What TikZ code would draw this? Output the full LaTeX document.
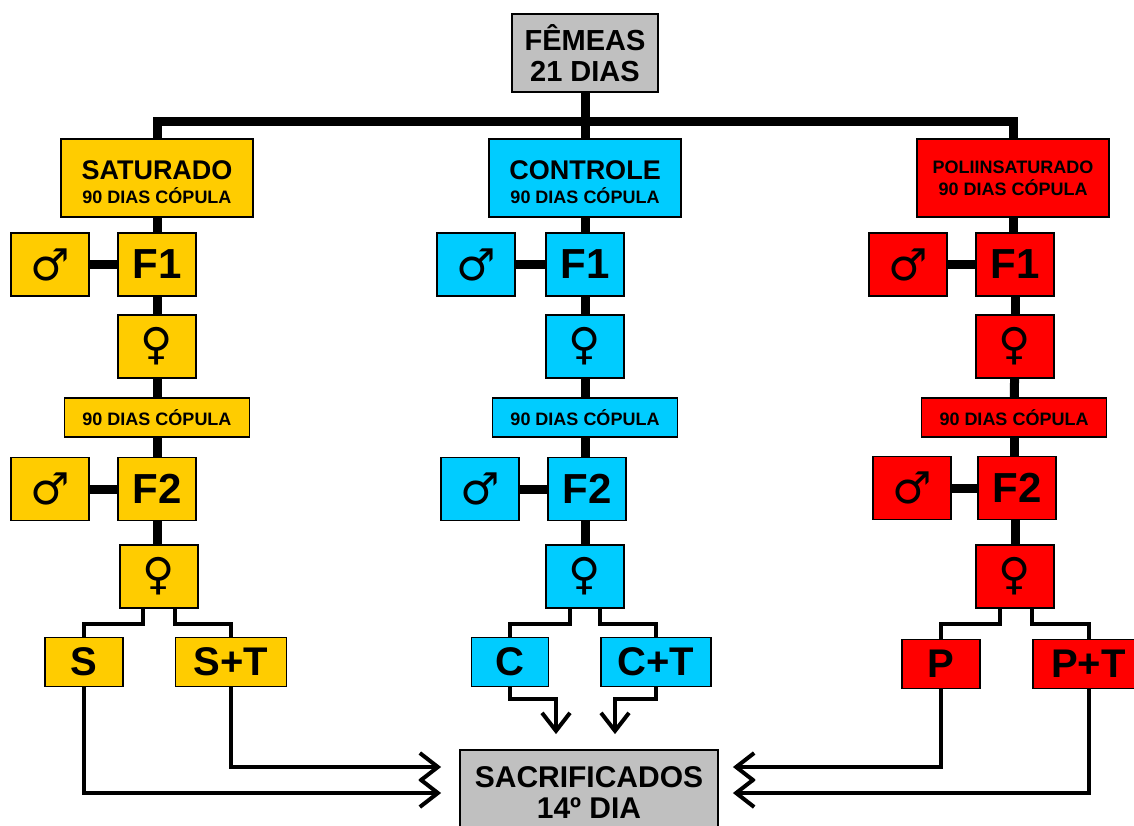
\documentclass[tikz,border=0pt]{standalone}
\usepackage{fontspec}
\setmainfont{Liberation Sans}
\newfontfamily\simbolo{DejaVu Sans}
\usetikzlibrary{arrows.meta}

\definecolor{amarelo}{HTML}{FFCC00}
\definecolor{azul}{HTML}{00CCFF}
\definecolor{vermelho}{HTML}{FF0000}
\definecolor{cinza}{HTML}{C0C0C0}

\tikzset{
  box/.style={draw=black, line width=1.8pt, inner sep=0pt, align=center},
  topo/.style={box, minimum width=192pt, minimum height=78pt},
  sexo/.style={box, minimum width=78pt, minimum height=63pt, font=\simbolo\bfseries\fontsize{44}{44}\selectfont},
  geracao/.style={box, minimum width=78pt, minimum height=63pt, font=\bfseries\fontsize{42}{42}\selectfont},
  copula/.style={box, minimum width=185pt, minimum height=39pt, font=\bfseries\fontsize{18}{18}\selectfont},
  grupo/.style={box, minimum width=78pt, minimum height=49pt, font=\bfseries\fontsize{40}{40}\selectfont},
  grupot/.style={grupo, minimum width=111pt},
  tronco/.style={line width=9pt},
  ramo/.style={line width=4pt},
  seta/.style={ramo, -{Straight Barb[length=18pt,width=28pt]}},
}

\begin{document}
\begin{tikzpicture}[x=1pt,y=-1pt]
    \useasboundingbox (0,0) rectangle (1134,825);

    % topo
    \node[box, fill=cinza, minimum width=146pt, minimum height=78pt, font=\bfseries\fontsize{29}{31}\selectfont] (femeas) at (585,53) {FÊMEAS\\21 DIAS};
    \coordinate (barra) at (585,121);

    % saturado
    \node[topo, fill=amarelo, font=\bfseries\fontsize{18}{24}\selectfont] (sat) at (157,178) {\rule{0pt}{28pt}{\fontsize{27}{24}\selectfont SATURADO}\\90 DIAS CÓPULA};
    \node[geracao, fill=amarelo] (sat_f1) at (157,264.5) {F1};
    \node[sexo, fill=amarelo] (sat_m1) at (50,264.5) {♂};
    \node[sexo, fill=amarelo] (sat_fe1) at (157,346.5) {♀};
    \node[copula, fill=amarelo] (sat_dias) at (157,417.5) {90 DIAS CÓPULA};
    \node[geracao, fill=amarelo] (sat_f2) at (157,489) {F2};
    \node[sexo, fill=amarelo] (sat_m2) at (50,489) {♂};
    \node[sexo, fill=amarelo] (sat_fe2) at (159,576.5) {♀};
    \node[grupo, fill=amarelo] (s) at (84,662) {S};
    \node[grupot, fill=amarelo] (s_t) at (231,662) {S+T};

    % controle
    \node[topo, fill=azul, font=\bfseries\fontsize{18}{24}\selectfont] (con) at (585,178) {\rule{0pt}{28pt}{\fontsize{27}{24}\selectfont CONTROLE}\\90 DIAS CÓPULA};
    \node[geracao, fill=azul] (con_f1) at (585,264.5) {F1};
    \node[sexo, fill=azul] (con_m1) at (476,264.5) {♂};
    \node[sexo, fill=azul] (con_fe1) at (585,346.5) {♀};
    \node[copula, fill=azul] (con_dias) at (585,417.5) {90 DIAS CÓPULA};
    \node[geracao, fill=azul] (con_f2) at (587,489) {F2};
    \node[sexo, fill=azul] (con_m2) at (480,489) {♂};
    \node[sexo, fill=azul] (con_fe2) at (585,576.5) {♀};
    \node[grupo, fill=azul, minimum width=77pt] (c) at (510,662) {C};
    \node[grupot, fill=azul, minimum width=110pt] (c_t) at (656,662) {C+T};

    % poliinsaturado
    \node[topo, fill=vermelho, font=\bfseries\fontsize{18}{22}\selectfont] (pol) at (1013,178) {POLIINSATURADO\\90 DIAS CÓPULA};
    \node[geracao, fill=vermelho] (pol_f1) at (1015,264.5) {F1};
    \node[sexo, fill=vermelho] (pol_m1) at (908,264.5) {♂};
    \node[sexo, fill=vermelho] (pol_fe1) at (1015,346.5) {♀};
    \node[copula, fill=vermelho] (pol_dias) at (1014,417.5) {90 DIAS CÓPULA};
    \node[geracao, fill=vermelho] (pol_f2) at (1017,488) {F2};
    \node[sexo, fill=vermelho] (pol_m2) at (912,488) {♂};
    \node[sexo, fill=vermelho] (pol_fe2) at (1015,576.5) {♀};
    \node[grupo, fill=vermelho] (p) at (941,664) {P};
    \node[grupot, fill=vermelho] (p_t) at (1088.5,664) {P+T};

    % final
    \node[box, fill=cinza, minimum width=258pt, minimum height=86pt, font=\bfseries\fontsize{30}{31}\selectfont] (sac) at (589,793) {SACRIFICADOS\\14º DIA};

    % tronco principal
    \draw[tronco] (femeas) -- (con);
    \draw[tronco] (sat.north) |- (barra) -| (pol.north);

    \draw[tronco] (sat) -- (sat_f1);
    \draw[tronco] (sat_m1) -- (sat_f1);
    \draw[tronco] (sat_f1) -- (sat_fe1);
    \draw[tronco] (sat_fe1) -- (sat_dias);
    \draw[tronco] (sat_dias) -- (sat_f2);
    \draw[tronco] (sat_m2) -- (sat_f2);
    \draw[tronco] (sat_f2.south) -- (sat_f2.south |- sat_fe2.north);

    \draw[tronco] (con) -- (con_f1);
    \draw[tronco] (con_m1) -- (con_f1);
    \draw[tronco] (con_f1) -- (con_fe1);
    \draw[tronco] (con_fe1) -- (con_dias);
    \draw[tronco] (con_dias.south) -- (con_dias.south |- con_f2.north);
    \draw[tronco] (con_m2) -- (con_f2);
    \draw[tronco] (con_fe2.north) -- (con_fe2.north |- con_f2.south);

    \draw[tronco] (pol.south) -- (pol.south |- pol_f1.north);
    \draw[tronco] (pol_m1) -- (pol_f1);
    \draw[tronco] (pol_f1) -- (pol_fe1);
    \draw[tronco] (pol_fe1) -- (pol_dias);
    \draw[tronco] (pol_dias.south) -- (pol_dias.south |- pol_f2.north);
    \draw[tronco] (pol_m2) -- (pol_f2);
    \draw[tronco] (pol_fe2.north) -- (pol_fe2.north |- pol_f2.south);

    % ramos
    \draw[ramo] ([xshift=-16pt]sat_fe2.south) -- ++(0,15) -| (s.north);
    \draw[ramo] ([xshift=16pt]sat_fe2.south) -- ++(0,15) -| (s_t.north);
    \draw[ramo] ([xshift=-15pt]con_fe2.south) -- ++(0,15) -| (c.north);
    \draw[ramo] ([xshift=15pt]con_fe2.south) -- ++(0,15) -| (c_t.north);
    \draw[ramo] ([xshift=-15pt]pol_fe2.south) -- ++(0,15) -| (p.north);
    \draw[ramo] ([xshift=17pt]pol_fe2.south) -- ++(0,15) -| (p_t.north);

    % setas
    \draw[seta, shorten >=18pt] (s.south) |- (sac.west);
    \draw[seta, shorten >=18pt] (s_t.south) |- ([yshift=26pt]sac.west);
    \draw[seta, shorten >=15pt] (c.south) -- ++(0,12) -| ([xshift=-33pt]sac.north);
    \draw[seta, shorten >=15pt] (c_t.south) -- ++(0,12) -| ([xshift=26pt]sac.north);
    \draw[seta, shorten >=14pt] (p.south) |- ([yshift=26pt]sac.east);
    \draw[seta, shorten >=14pt] (p_t.south) |- (sac.east);
\end{tikzpicture}
\end{document}
